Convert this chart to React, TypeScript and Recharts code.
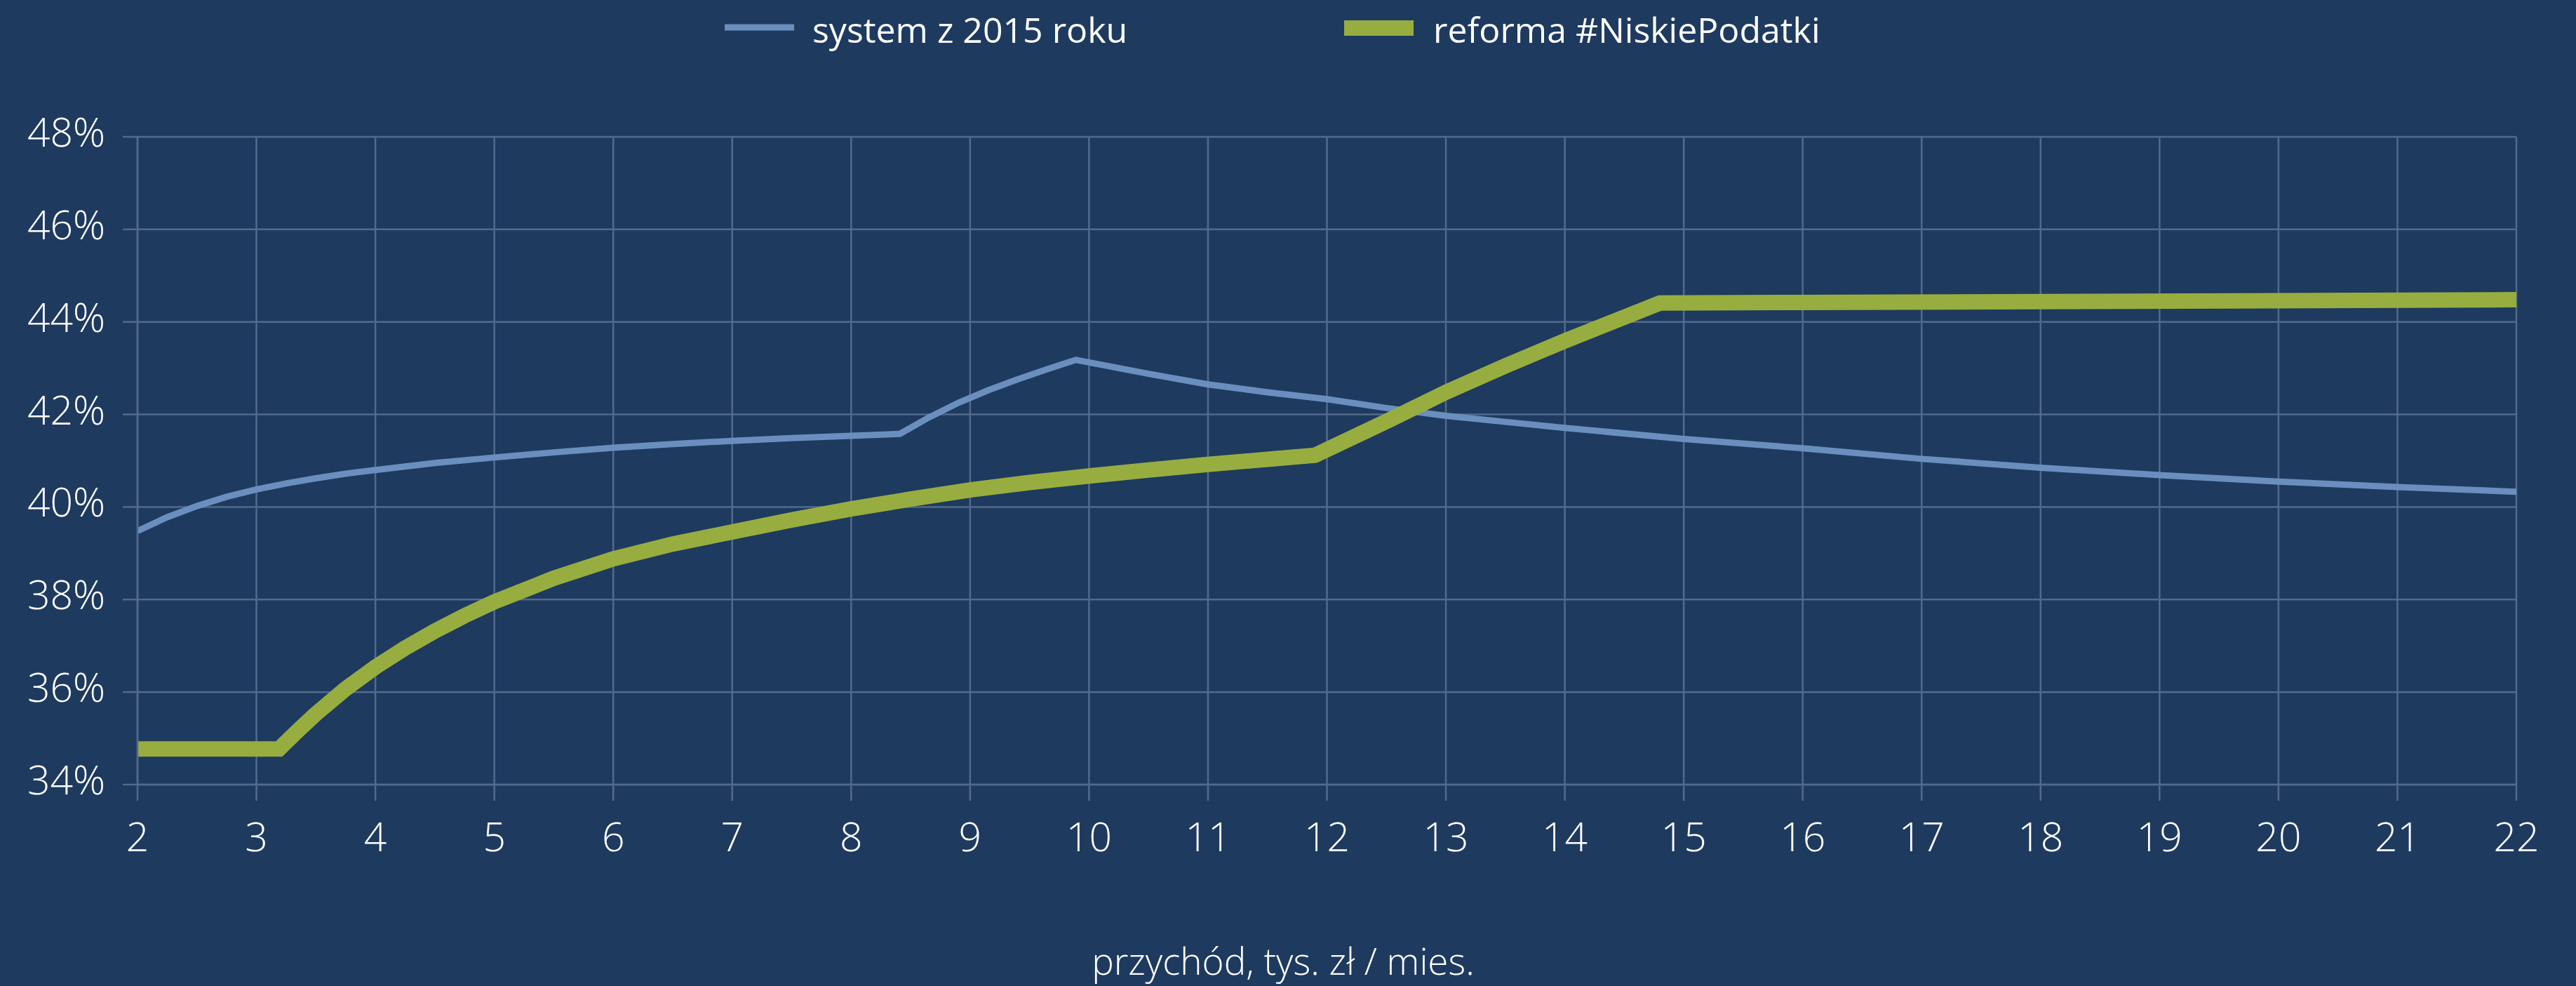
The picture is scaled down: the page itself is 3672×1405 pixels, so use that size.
import React from "react";
import { LineChart, Line, XAxis, YAxis, CartesianGrid } from "recharts";

// ---- data ----
const xTicks = [2, 3, 4, 5, 6, 7, 8, 9, 10, 11, 12, 13, 14, 15, 16, 17, 18, 19, 20, 21, 22];
const yTicks = [34, 36, 38, 40, 42, 44, 46, 48];

const seriesNames = ["system z 2015 roku", "reforma #NiskiePodatki"];
const axisTitle = "przychód, tys. zł / mies.";

const systemX = [2, 2.25, 2.5, 2.75, 3, 3.25, 3.5, 3.75, 4, 4.5, 5, 5.5, 6, 6.5, 7, 7.5, 8, 8.41, 8.65, 8.9, 9.15, 9.4, 9.65, 9.89, 10.5, 11, 11.5, 12, 12.5, 13, 13.5, 14, 15, 16, 17, 18, 19, 20, 21, 22];
const systemY = [39.48, 39.78, 40.02, 40.22, 40.38, 40.51, 40.62, 40.72, 40.8, 40.95, 41.07, 41.18, 41.28, 41.36, 41.43, 41.49, 41.54, 41.58, 41.93, 42.25, 42.52, 42.76, 42.98, 43.18, 42.88, 42.65, 42.48, 42.33, 42.14, 41.97, 41.84, 41.71, 41.47, 41.27, 41.04, 40.85, 40.69, 40.55, 40.43, 40.33];

const reformX = [2, 3.19, 3.35, 3.5, 3.75, 4, 4.25, 4.5, 4.75, 5, 5.5, 6, 6.5, 7, 7.5, 8, 8.5, 9, 9.5, 10, 10.5, 11, 11.5, 11.9, 12.5, 13, 13.5, 14, 14.4, 14.8, 16, 18, 20, 22];
const reformY = [34.77, 34.77, 35.17, 35.53, 36.07, 36.54, 36.95, 37.32, 37.65, 37.95, 38.46, 38.88, 39.2, 39.46, 39.72, 39.96, 40.17, 40.37, 40.53, 40.67, 40.8, 40.92, 41.03, 41.12, 41.85, 42.48, 43.05, 43.59, 44.0, 44.41, 44.42, 44.44, 44.46, 44.48];

const systemData = systemX.map((x, i) => ({ x, y: systemY[i] }));
const reformData = reformX.map((x, i) => ({ x, y: reformY[i] }));

// ---- styles ----
const W = 3672;
const H = 1405;
const BG = "#1e3a5f";
const GRID = "#536a8b";
const BLUE = "#6a8fbe";
const GREEN = "#98ad3f";
const FONT = "'Open Sans', sans-serif";

const XTick = (props: any) => {
  const { x, y, payload } = props;
  return (
    <text x={x} y={y + 72} textAnchor="middle" fill="#ffffff" fontSize={57} fontWeight={300} fontFamily={FONT}>
      {payload.value}
    </text>
  );
};

const YTick = (props: any) => {
  const { x, y, payload } = props;
  return (
    <text x={x} y={y + 14} textAnchor="end" fill="#ffffff" fontSize={57} fontWeight={300} fontFamily={FONT}>
      {payload.value + "%"}
    </text>
  );
};

export default function App() {
  return (
    <div style={{ position: "fixed", left: 0, top: 0, width: W, height: H, background: BG, overflow: "hidden" }}>
      <LineChart width={W} height={H} margin={{ top: 195, right: 85, bottom: 0, left: 0 }}>
        <CartesianGrid stroke={GRID} strokeWidth={2.5} />
        <XAxis
          dataKey="x"
          type="number"
          domain={[2, 22]}
          ticks={xTicks}
          interval={0}
          allowDataOverflow
          height={287}
          tickSize={23}
          tickMargin={0}
          axisLine={{ stroke: GRID, strokeWidth: 2.5 }}
          tickLine={{ stroke: GRID, strokeWidth: 2.5 }}
          tick={<XTick />}
        />
        <YAxis
          type="number"
          domain={[34, 48]}
          ticks={yTicks}
          interval={0}
          allowDataOverflow
          width={196}
          tickSize={21}
          tickMargin={25}
          axisLine={{ stroke: GRID, strokeWidth: 2.5 }}
          tickLine={{ stroke: GRID, strokeWidth: 2.5 }}
          tick={<YTick />}
        />
        <Line
          data={systemData}
          dataKey="y"
          name={seriesNames[0]}
          type="linear"
          stroke={BLUE}
          strokeWidth={9}
          dot={false}
          activeDot={false}
          isAnimationActive={false}
        />
        <Line
          data={reformData}
          dataKey="y"
          name={seriesNames[1]}
          type="linear"
          stroke={GREEN}
          strokeWidth={22}
          dot={false}
          activeDot={false}
          isAnimationActive={false}
        />
      </LineChart>
      <svg width={W} height={H} style={{ position: "absolute", left: 0, top: 0, pointerEvents: "none" }}>
        <line x1={1033} x2={1132} y1={39} y2={39} stroke={BLUE} strokeWidth={9} />
        <text x={1158} y={61} fill="#ffffff" fontSize={50} fontWeight={400} fontFamily={FONT}>
          {seriesNames[0]}
        </text>
        <line x1={1916} x2={2015} y1={40} y2={40} stroke={GREEN} strokeWidth={22} />
        <text x={2043} y={61} fill="#ffffff" fontSize={50} fontWeight={400} fontFamily={FONT}>
          {seriesNames[1]}
        </text>
        <text x={1829} y={1389} textAnchor="middle" fill="#ffffff" fontSize={53} fontWeight={300} fontFamily={FONT}>
          {axisTitle}
        </text>
      </svg>
    </div>
  );
}
